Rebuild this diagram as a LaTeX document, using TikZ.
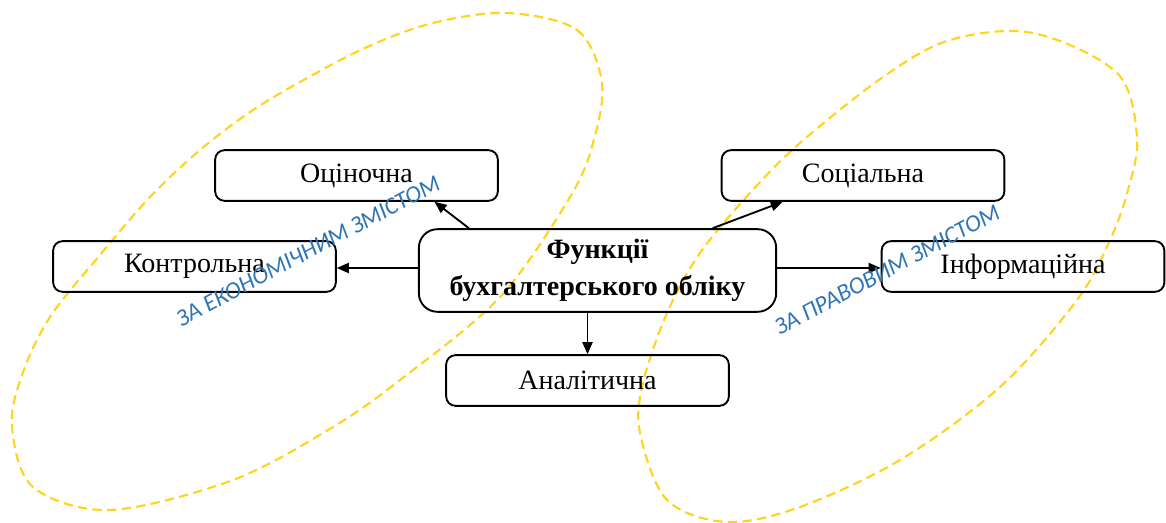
\documentclass[tikz,border=0pt]{standalone}
\usepackage{fontspec}
\setmainfont{Liberation Serif}
\newfontfamily\wmfont{Carlito}
\usetikzlibrary{arrows.meta,calc}
\definecolor{ellcol}{RGB}{255,212,30}
\definecolor{wmblue}{RGB}{46,117,182}
\begin{document}
\begin{tikzpicture}[x=0.75pt,y=-0.75pt,
  fbox/.style={draw, line width=1.4pt, rounded corners=7pt, minimum width=212pt, minimum height=38pt, inner sep=0pt, font=\fontsize{21}{25}\selectfont},
  cbox/.style={draw, line width=1.4pt, rounded corners=14pt, minimum width=268pt, minimum height=62pt, inner sep=0pt, align=center, font=\bfseries\fontsize{21}{28}\selectfont},
  arr/.style={line width=1.4pt, -{Triangle[length=9pt,width=7.5pt]}},
  ell/.style={draw=ellcol, line width=1.6pt, dash pattern=on 7pt off 4pt},
  wm/.style={text=wmblue, font=\wmfont\itshape\fontsize{18}{20}\selectfont, inner sep=0pt}]
\useasboundingbox (0,0) rectangle (1166,523);
% ellipses
\draw[ell] plot[smooth cycle, tension=0.55] coordinates {(507,13) (577,30) (602,83) (593,143) (570,197) (500,297) (400,380) (333,427) (233,480) (110,510) (33,487) (12,427) (22,375) (50,317) (100,255) (150,197) (200,150) (250,112) (300,82) (367,47) (433,23)};
\draw[ell] plot[smooth cycle, tension=0.55] coordinates {(1033,33) (1117,73) (1137,137) (1128,190) (1110,240) (1077,300) (1000,387) (900,460) (800,507) (727,522) (667,500) (640,433) (643,383) (667,313) (700,253) (750,193) (800,143) (883,77) (950,40)};
% nodes
\node[fbox] (o) at (356.5,175.5) {Оціночна};
\node[fbox] (s) at (863,175.5) {Соціальна};
\node[fbox] (k) at (194.5,266.5) {Контрольна};
\node[fbox] (i) at (1023,266.5) {Інформаційна};
\node[cbox] (c) at (597.5,270.5) {Функції\\бухгалтерського обліку};
\node[fbox] (a) at (587.5,380.5) {Аналітична};
% connectors
\draw[arr] ($(c.north west)+(51,0)$) -- ($(o.south)+(78,0)$);
\draw[arr] ($(c.north east)+(-64.5,0)$) -- ($(s.south west)+(62,0)$);
\draw[arr] ($(c.west)+(0,-2.5)$) -- ($(k.east)+(0,1.5)$);
\draw[arr] ($(c.east)+(0,-2.5)$) -- ($(i.west)+(0,1.5)$);
\draw[arr] (c.south -| a.north) -- (a.north);
% watermarks
\node[wm, rotate=28] (w1) at (308,251) {ЗА ЕКОНОМІЧНИМ ЗМІСТОМ};
\node[wm, rotate=28] (w2) at (887,270) {ЗА ПРАВОВИМ ЗМІСТОМ};
\end{tikzpicture}
\end{document}
